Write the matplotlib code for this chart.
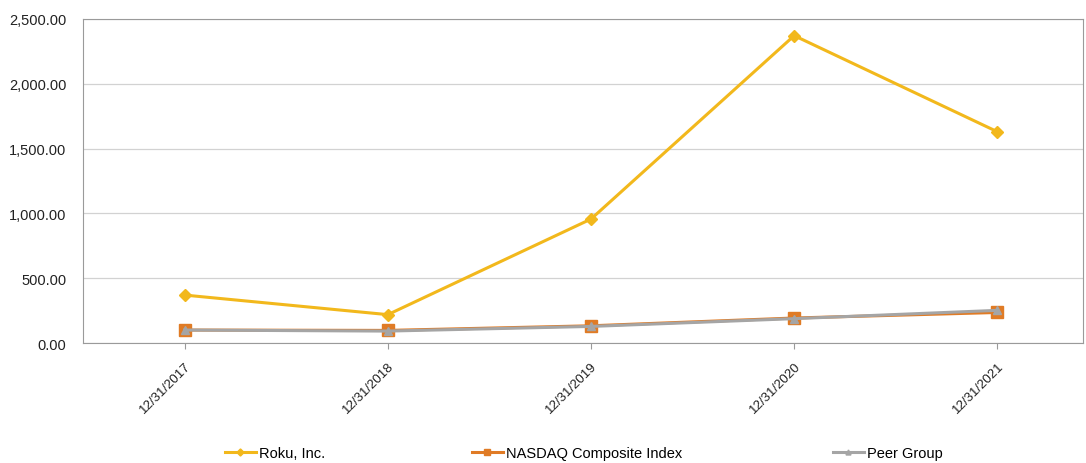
import matplotlib
matplotlib.use("Agg")
import matplotlib.pyplot as plt
from matplotlib.ticker import FuncFormatter

plt.rcParams['font.family'] = ['Liberation Sans', 'DejaVu Sans']

dates = ["12/31/2017", "12/31/2018", "12/31/2019", "12/31/2020", "12/31/2021"]
roku = [369.9, 218.9, 956.4, 2371.6, 1630.0]
nasdaq = [100.0, 97.2, 132.9, 192.9, 235.6]
peer = [100.0, 92.0, 128.0, 188.0, 252.0]

fig = plt.figure(figsize=(10.86, 4.64), dpi=100)
ax = fig.add_axes([0.0764, 0.2586, 0.9206, 0.6983])

x = range(len(dates))
l1, = ax.plot(x, roku, color="#F2B81C", lw=2.2, marker="D", ms=6, label="Roku, Inc.")
l2, = ax.plot(x, nasdaq, color="#E07B25", lw=2.2, marker="s", ms=8, label="NASDAQ Composite Index")
l3, = ax.plot(x, peer, color="#A5A5A5", lw=2.2, marker="^", ms=6, label="Peer Group")

ax.set_ylim(0, 2500)
ax.set_yticks([0, 500, 1000, 1500, 2000, 2500])
ax.yaxis.set_major_formatter(FuncFormatter(lambda v, p: f"{v:,.2f}"))
ax.set_xlim(-0.5, 4.42)
ax.set_xticks(list(x))
ax.set_xticklabels(dates, rotation=45, ha="right", rotation_mode="anchor")
ax.grid(axis="y", color="#D2D2D2", lw=0.9)
ax.set_axisbelow(True)
for s in ax.spines.values():
    s.set_color("#9A9A9A")
ax.tick_params(axis="y", length=0, labelsize=10.5, colors="#222222", pad=12)
ax.tick_params(axis="x", length=4, color="#9A9A9A", labelsize=9.5, colors="#222222", pad=8)

# legend entries laid out like the original (uneven spacing)
for line, xpos in [(l1, 225), (l2, 472), (l3, 833)]:
    fig.legend(handles=[line], loc="center left", bbox_to_anchor=(xpos / 1086, 0.022),
               frameon=False, fontsize=10.5, handlelength=2.1, handletextpad=0.2,
               borderpad=0, borderaxespad=0, markerscale=0.6)

fig.savefig("out.png", dpi=100)
